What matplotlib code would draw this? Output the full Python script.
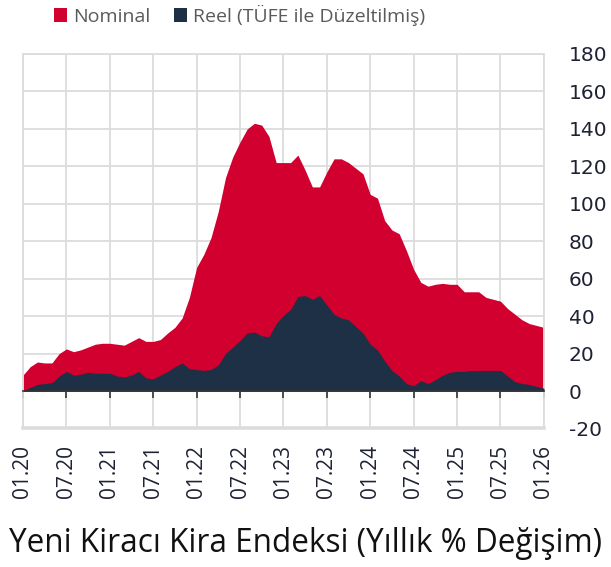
import numpy as np
import matplotlib.pyplot as plt

# Yeni Kiracı Kira Endeksi, aylık (01.20 - 01.26)
nominal = [8.5, 13, 15.5, 15, 15, 20, 22.5, 21, 22, 23.5, 25, 25.5, 25.5, 25, 24.5, 26.5,
           28.5, 26.5, 26.5, 27.5, 31, 34, 39, 50, 66, 73, 82, 96, 114, 125, 133, 140,
           143, 142, 136, 122, 122, 122, 126, 118, 109, 109, 117, 124, 124, 122, 119, 116,
           105, 103, 91, 86, 84, 75, 65, 58, 56, 57, 57.5, 57, 57, 53, 53, 53, 50, 49,
           48, 44, 41, 38, 36, 35, 34]
reel = [0, 2, 3.5, 4, 4.5, 8, 10.5, 8.5, 9, 10, 9.5, 9.5, 9.5, 8, 7.5, 8.5,
        10.5, 7, 6.5, 8.5, 10.5, 13, 15, 12, 11.5, 11, 11.5, 14, 20, 23.5, 27, 31,
        31.5, 29.5, 29, 36, 40.5, 43.5, 50.5, 51, 49, 51, 46, 41, 39, 38, 34.5, 31,
        25, 22, 16, 11, 8, 4, 2.8, 5.5, 4, 6, 8.5, 10, 10.5, 10.5, 11, 11, 11, 11,
        11, 8, 5, 4, 3.5, 2.5, 1.5]
tick_labels = ['01.20', '07.20', '01.21', '07.21', '01.22', '07.22', '01.23',
               '07.23', '01.24', '07.24', '01.25', '07.25', '01.26']

red = '#D2002F'
navy = '#1E3045'

plt.rcParams['font.family'] = ['Open Sans', 'DejaVu Sans']
plt.rcParams['axes.unicode_minus'] = False

fig = plt.figure(figsize=(6.11, 5.67), dpi=100)
ax = fig.add_axes([0.0376, 0.2443, 0.8525, 0.6605])

x = np.arange(len(nominal))
ax.fill_between(x, 0, nominal, color=red, lw=0, label='Nominal', zorder=2)
ax.fill_between(x, 0, reel, color=navy, lw=0, label='Reel (TÜFE ile Düzeltilmiş)', zorder=3)

ax.set_xlim(0, len(nominal) - 1)
ax.set_ylim(-20, 180)
ax.set_yticks(np.arange(-20, 181, 20))
ax.set_xticks(np.arange(0, len(nominal), 6))
ax.set_xticklabels(tick_labels)

ax.grid(True, color='#dcdcdc', lw=1.3, zorder=0)
ax.set_axisbelow(True)

ax.yaxis.tick_right()
ax.tick_params(axis='y', length=0, pad=18, labelsize=14.5, labelcolor='#1f2233')
ax.tick_params(axis='x', length=5, width=1.2, color='#333333', pad=34,
               labelsize=15, labelcolor='#1f2233', labelrotation=90)
for lab in ax.get_xticklabels() + ax.get_yticklabels():
    lab.set_family('DejaVu Sans')

for s in ['top', 'left', 'right']:
    ax.spines[s].set_color('#dcdcdc')
    ax.spines[s].set_linewidth(1.3)
ax.spines['bottom'].set_position(('data', 0))
ax.spines['bottom'].set_color('#333333')
ax.spines['bottom'].set_linewidth(1.2)
ax.spines['bottom'].set_zorder(4)
# alt kenar çizgisi (-20)
ax.axhline(-20, color='#dcdcdc', lw=2.6, zorder=1, clip_on=False)

leg = fig.legend(loc='upper left', bbox_to_anchor=(0.075, 1.005), ncol=2, frameon=False,
                 fontsize=14, handlelength=0.7, handleheight=0.7, handletextpad=0.3,
                 columnspacing=1.2, borderaxespad=0)
for t in leg.get_texts():
    t.set_color('#5a5a5a')

fig.text(0.5, 0.042, 'Yeni Kiracı Kira Endeksi (Yıllık % Değişim)', ha='center', va='center',
         fontsize=22.7, color='#111111')

fig.savefig('out.png', dpi=100)
